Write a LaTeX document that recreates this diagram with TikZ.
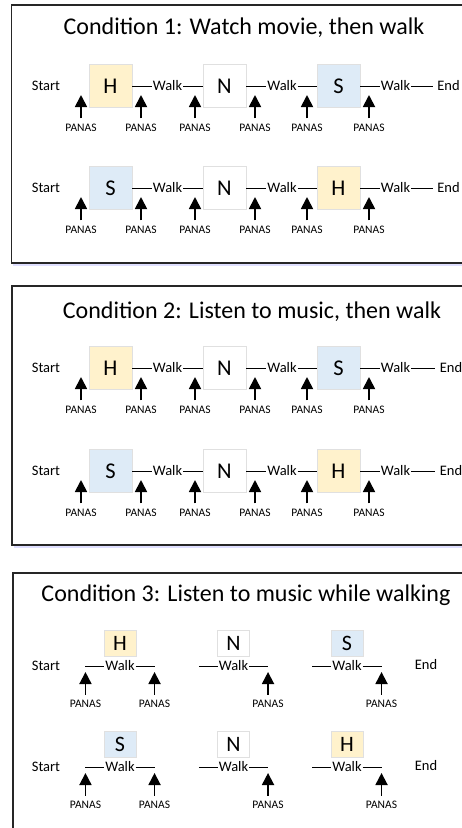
\documentclass[tikz,border=0pt]{standalone}
\usepackage{fontspec}
\setmainfont{Carlito}
\usetikzlibrary{arrows.meta,positioning,shadows}

\definecolor{hcol}{HTML}{FFF2CC}
\definecolor{scol}{HTML}{DEEBF7}

\tikzset{
  condbox/.style={draw=black!85,line width=1.6pt,fill=white,
    drop shadow={shadow xshift=1.5pt,shadow yshift=-2.5pt,fill=blue!25,opacity=0.5}},
  title/.style={font=\fontsize{24}{28}\selectfont},
  cell/.style={draw=black!12,minimum size=43pt,inner sep=0pt,font=\fontsize{22.5}{26}\selectfont},
  mini/.style={draw=black!12,minimum width=32pt,minimum height=26pt,inner sep=0pt,font=\fontsize{22}{26}\selectfont},
  lbl/.style={font=\fontsize{14.5}{17}\selectfont,inner sep=0.5pt},
  panas/.style={font=\fontsize{11.5}{13}\selectfont,inner sep=1pt},
  uparrow/.style={line width=1.8pt,-{Triangle[length=12pt,width=12pt]},shorten <=4pt},
}

\begin{document}
\begin{tikzpicture}[x=1pt,y=-1pt,line width=0.8pt]
  \useasboundingbox (0,0) rectangle (462,828);

  \draw[condbox] (11.5,5) rectangle (478,263);
  \draw[condbox] (12,286) rectangle (478,545);
  \draw[condbox] (13,573) rectangle (478,840);

  \node[title] (t1) at (244,28) {Condition 1: Watch movie, then walk};
  \node[title] (t2) at (252,312) {Condition 2: Listen to music, then walk};
  \node[title] (t3) at (246,595) {Condition 3: Listen to music while walking};

  % conditions 1 and 2
  \foreach \r/\y/\a/\ca/\c/\cc/\ex in {a/86/H/hcol/S/scol/448.5,b/188/S/scol/H/hcol/448.5,
                                       c/368/H/hcol/S/scol/451,d/471/S/scol/H/hcol/451}{
    \node[lbl] (start\r) at (46,\y) {Start};
    \node[cell,fill=\ca] (one\r) at (110.5,\y) {\a};
    \node[cell,fill=white] (two\r) at (224.5,\y) {N};
    \node[cell,fill=\cc] (three\r) at (338.5,\y) {\c};
    \node[lbl] (wa\r) at (167.5,\y) {Walk};
    \node[lbl] (wb\r) at (282,\y) {Walk};
    \node[lbl] (wc\r) at (395.5,\y) {Walk};
    \node[lbl,inner sep=4pt] (end\r) at (\ex,\y) {End};
    \draw (one\r) -- (wa\r) -- (two\r);
    \draw (two\r) -- (wb\r) -- (three\r);
    \draw (three\r) -- (wc\r) -- (end\r);
    \foreach \px [count=\k] in {81,141,195,255,307,369}{
      \coordinate (tip\r\k) at (\px,\y+9);
      \node[panas] (pan\r\k) at (\px,\y+41.5) {PANAS};
      \draw[uparrow] (pan\r\k) -- (tip\r\k);
    }
  }

  % condition 3
  \foreach \r/\y/\a/\ca/\c/\cc in {e/666/H/hcol/S/scol,f/767/S/scol/H/hcol}{
    \node[lbl] (start\r) at (46,\y) {Start};
    \node[lbl] (wa\r) at (120,\y) {Walk};
    \node[lbl] (wb\r) at (233.5,\y) {Walk};
    \node[lbl] (wc\r) at (347,\y) {Walk};
    \node[lbl] (end\r) at (426,\y-1) {End};
    \node[mini,fill=\ca,above=3pt of wa\r] (one\r) {\a};
    \node[mini,fill=white,above=3pt of wb\r] (two\r) {N};
    \node[mini,fill=\cc,above=3pt of wc\r] (three\r) {\c};
    \coordinate (la\r) at ([xshift=-19pt]wa\r.west);
    \coordinate (ra\r) at ([xshift=19pt]wa\r.east);
    \coordinate (lb\r) at ([xshift=-19pt]wb\r.west);
    \coordinate (rb\r) at ([xshift=19pt]wb\r.east);
    \coordinate (lc\r) at ([xshift=-19pt]wc\r.west);
    \coordinate (rc\r) at ([xshift=19pt]wc\r.east);
    \draw (la\r) -- (wa\r) -- (ra\r);
    \draw (lb\r) -- (wb\r) -- (rb\r);
    \draw (lc\r) -- (wc\r) -- (rc\r);
    \foreach \e [count=\k] in {la,ra,rb,rc}{
      \coordinate (tip\r\k) at ([yshift=-6pt]\e\r);
      \node[panas] (pan\r\k) at ([yshift=-38pt]\e\r) {PANAS};
      \draw[uparrow] (pan\r\k) -- (tip\r\k);
    }
  }
\end{tikzpicture}
\end{document}
